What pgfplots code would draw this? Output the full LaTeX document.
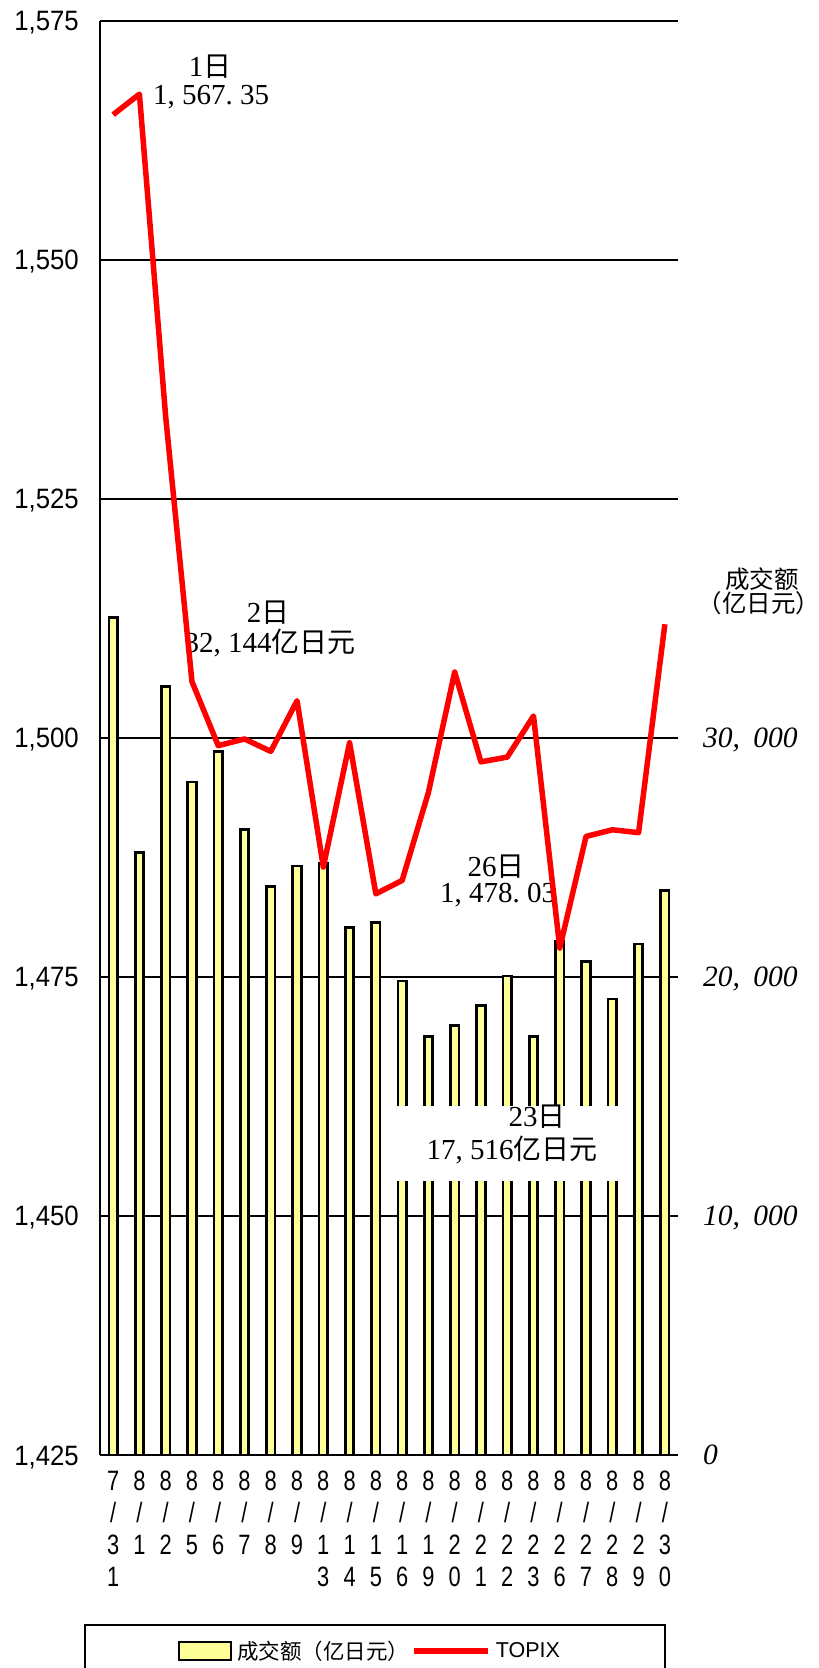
\documentclass[border=0pt]{standalone}
\usepackage{fontspec}
\setmainfont{Liberation Serif}
\newfontfamily\cjk{Noto Sans CJK SC}
\newfontfamily\arialn[FakeStretch=0.78]{Liberation Sans}
\newfontfamily\ariall[FakeStretch=0.92]{Liberation Sans}
\newfontfamily\arial{Liberation Sans}
\usepackage{pgfplots}
\pgfplotsset{compat=1.18}
\definecolor{barfill}{RGB}{255,255,153}
\definecolor{topred}{RGB}{255,0,0}

\pgfplotstableread{
x vol
0 35030
1 25200
2 32144
3 28160
4 29440
5 26180
6 23780
7 24640
8 24760
9 22060
10 22270
11 19830
12 17500
13 17960
14 18820
15 20040
16 17516
17 21480
18 20640
19 19080
20 21380
21 23610
}\voltable

\pgfplotstableread{
x topix
0 1565.2
1 1567.35
2 1533.6
3 1505.9
4 1499.2
5 1499.9
6 1498.6
7 1503.9
8 1486.5
9 1499.5
10 1483.7
11 1485.1
12 1494.3
13 1506.9
14 1497.5
15 1498.0
16 1502.3
17 1478.03
18 1489.7
19 1490.4
20 1490.1
21 1511.9
}\topixtable

\begin{document}
\begin{tikzpicture}
\path[use as bounding box] (0pt,0pt) rectangle (819pt,1668pt);
\begin{axis}[
  at={(100pt,213pt)}, anchor=south west,
  scale only axis, width=578pt, height=1434pt,
  xmin=-0.5, xmax=21.5, ymin=0, ymax=60000,
  axis x line*=bottom, axis y line*=right,
  x axis line style={line width=2.2pt, -},
  y axis line style={draw=none, -},
  major tick length=0pt,
  ymajorgrids, grid style={black, line width=2pt},
  ytick={0,10000,20000,30000,40000,50000,60000},
  yticklabels={0,{10,\hspace{0.45em}000},{20,\hspace{0.45em}000},{30,\hspace{0.45em}000},{},{},{}},
  yticklabel style={font=\fontsize{29.5}{30}\selectfont\itshape, anchor=base west, inner sep=0pt, xshift=25pt, yshift=-10pt},
  scaled y ticks=false,
  xtick={0,...,21},
  xticklabels={{7\\/\\3\\1},{8\\/\\1},{8\\/\\2},{8\\/\\5},{8\\/\\6},{8\\/\\7},{8\\/\\8},{8\\/\\9},{8\\/\\1\\3},{8\\/\\1\\4},{8\\/\\1\\5},{8\\/\\1\\6},{8\\/\\1\\9},{8\\/\\2\\0},{8\\/\\2\\1},{8\\/\\2\\2},{8\\/\\2\\3},{8\\/\\2\\6},{8\\/\\2\\7},{8\\/\\2\\8},{8\\/\\2\\9},{8\\/\\3\\0}},
  xticklabel style={font=\arialn\fontsize{28}{32}\selectfont, align=center, anchor=north, inner sep=0pt, yshift=-16pt},
  ybar, bar width=8.5pt,
]
\addplot[fill=barfill, draw=black, line width=2.7pt] table[x=x, y=vol] {\voltable};
\end{axis}

% white box behind the 23 annotation
\fill[white] (390pt,487pt) rectangle (628pt,562pt);

% annotations
\node[anchor=base, inner sep=0pt, font=\fontsize{29}{30}\selectfont] at (210pt,1591pt) {1{\cjk\fontsize{28}{30}\selectfont 日}};
\node[anchor=base, inner sep=0pt, font=\fontsize{29}{30}\selectfont] at (211pt,1563pt) {1,\ 567.\ 35};
\node[anchor=base, inner sep=0pt, font=\fontsize{29}{30}\selectfont] at (268pt,1045pt) {2{\cjk\fontsize{28}{30}\selectfont 日}};
\node[anchor=base, inner sep=0pt, font=\fontsize{29}{30}\selectfont] at (270pt,1015pt) {32,\ 144{\cjk\fontsize{28}{30}\selectfont 亿日元}};
\node[anchor=base, inner sep=0pt, font=\fontsize{29}{30}\selectfont] at (496pt,791pt) {26{\cjk\fontsize{28}{30}\selectfont 日}};
\node[anchor=base, inner sep=0pt, font=\fontsize{29}{30}\selectfont] at (498pt,765pt) {1,\ 478.\ 03};
\node[anchor=base, inner sep=0pt, font=\fontsize{29}{30}\selectfont] at (537pt,541pt) {23{\cjk\fontsize{28}{30}\selectfont 日}};
\node[anchor=base, inner sep=0pt, font=\fontsize{29}{30}\selectfont] at (512pt,508pt) {17,\ 516{\cjk\fontsize{28}{30}\selectfont 亿日元}};

% right axis title
\node[anchor=base, inner sep=0pt, font=\cjk\fontsize{24.5}{26}\selectfont] at (762pt,1079pt) {成交额};
\node[anchor=base, inner sep=0pt, font=\cjk\fontsize{24.5}{26}\selectfont] at (759pt,1055pt) {（亿日元）};

\begin{axis}[
  at={(100pt,213pt)}, anchor=south west,
  scale only axis, width=578pt, height=1434pt,
  xmin=-0.5, xmax=21.5, ymin=1425, ymax=1575,
  axis x line=none, axis y line*=left,
  y axis line style={line width=2.2pt, -},
  major tick length=0pt,
  ytick={1425,1450,1475,1500,1525,1550,1575},
  yticklabels={{1,425},{1,450},{1,475},{1,500},{1,525},{1,550},{1,575}},
  yticklabel style={font=\ariall\fontsize{28}{30}\selectfont, anchor=base east, inner sep=0pt, xshift=-21pt, yshift=-10pt},
  xtick=\empty,
  legend columns=2,
  legend style={at={(0.467,-0.1365)}, anchor=center, draw=none, fill=none,
    font=\fontsize{21.5}{24}\selectfont,
    /tikz/every odd column/.append style={column sep=3pt}},
  legend cell align=left,
]
\addlegendimage{legend image code/.code={\draw[fill=barfill, draw=black, line width=2.5pt] (0pt,-9pt) rectangle (52pt,9pt);}}
\addlegendentry{{\cjk 成交额（亿日元）}}
\addplot[topred, line width=5.5pt, line join=round, mark=none,
  legend image code/.code={\draw[topred, line width=5.5pt] (0pt,0pt) -- (74pt,0pt);}]
  table[x=x, y=topix] {\topixtable};
\addlegendentry{{\arial TOPIX}}
\end{axis}

% legend frame
\draw[line width=2pt] (85pt,-30pt) rectangle (665pt,43pt);
\end{tikzpicture}
\end{document}
